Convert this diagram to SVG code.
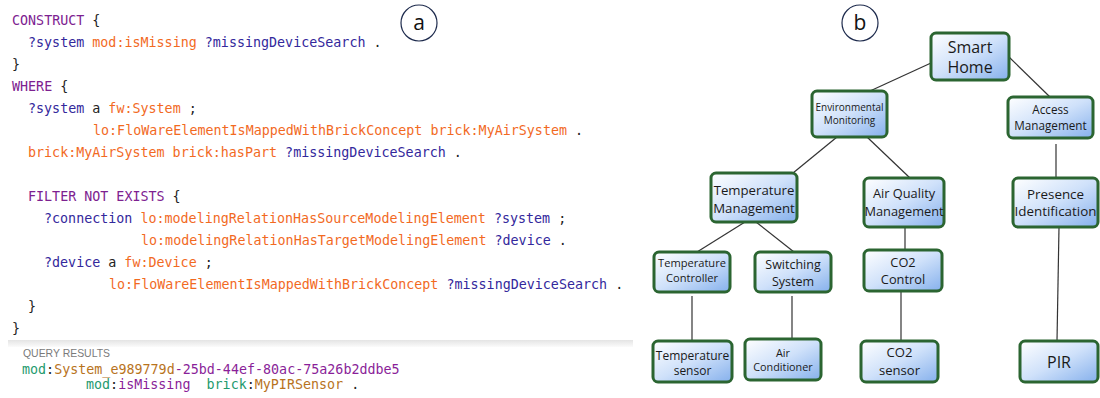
<svg xmlns="http://www.w3.org/2000/svg" width="1100" height="398" viewBox="0 0 1100 398">
<style>
.code{font-family:"DejaVu Sans Mono","Liberation Mono",monospace;font-size:13.35px;fill:#222}
.k{fill:#7d2190}
.o{fill:#f26a1f}
.v{fill:#33289c}
.g{fill:#1f9a6e}
.b{fill:#b8731d}
.p{fill:#8a1f99}
.node rect{fill:url(#ng);stroke:#2b6531;stroke-width:3}
.node text{font-family:"Open Sans","Liberation Sans",sans-serif;fill:#1a1a1a;text-anchor:middle}
.conn line{stroke:#333;stroke-width:1.2}
.lbl circle{fill:#fff;stroke:#1e2b4d;stroke-width:1.2}
.lbl text{font-family:"Open Sans","Liberation Sans",sans-serif;font-size:21px;fill:#111;text-anchor:middle}
</style>
<defs>
<linearGradient id="ng" x1="0" y1="0" x2="1" y2="1">
<stop offset="0" stop-color="#ffffff"/>
<stop offset="0.5" stop-color="#cfe1fa"/>
<stop offset="1" stop-color="#85b0ec"/>
</linearGradient>
<linearGradient id="bar" x1="0" y1="0" x2="0" y2="1">
<stop offset="0" stop-color="#e4e4e4"/>
<stop offset="1" stop-color="#fbfbfb"/>
</linearGradient>
</defs>
<rect width="1100" height="398" fill="#fff"/>

<g id="code">
<text class="code" xml:space="preserve" x="12" y="25"><tspan class="k">CONSTRUCT</tspan> {</text>
<text class="code" xml:space="preserve" x="28" y="47"><tspan class="v">?system</tspan> <tspan class="o">mod:isMissing</tspan> <tspan class="v">?missingDeviceSearch</tspan> .</text>
<text class="code" xml:space="preserve" x="12" y="69">}</text>
<text class="code" xml:space="preserve" x="12" y="91"><tspan class="k">WHERE</tspan> {</text>
<text class="code" xml:space="preserve" x="28" y="113"><tspan class="v">?system</tspan> a <tspan class="o">fw:System</tspan> ;</text>
<text class="code" xml:space="preserve" x="93" y="135"><tspan class="o">lo:FloWareElementIsMappedWithBrickConcept brick:MyAirSystem</tspan> .</text>
<text class="code" xml:space="preserve" x="28" y="157"><tspan class="o">brick:MyAirSystem brick:hasPart</tspan> <tspan class="v">?missingDeviceSearch</tspan> .</text>
<text class="code" xml:space="preserve" x="28" y="201"><tspan class="k">FILTER NOT EXISTS</tspan> {</text>
<text class="code" xml:space="preserve" x="44" y="223"><tspan class="v">?connection</tspan> <tspan class="o">lo:modelingRelationHasSourceModelingElement</tspan> <tspan class="v">?system</tspan> ;</text>
<text class="code" xml:space="preserve" x="141" y="245"><tspan class="o">lo:modelingRelationHasTargetModelingElement</tspan> <tspan class="v">?device</tspan> .</text>
<text class="code" xml:space="preserve" x="44" y="267"><tspan class="v">?device</tspan> a <tspan class="o">fw:Device</tspan> ;</text>
<text class="code" xml:space="preserve" x="109" y="289"><tspan class="o">lo:FloWareElementIsMappedWithBrickConcept</tspan> <tspan class="v">?missingDeviceSearch</tspan> .</text>
<text class="code" xml:space="preserve" x="28" y="311">}</text>
<text class="code" xml:space="preserve" x="12" y="333">}</text>
</g>

<g id="results">
<rect x="8" y="340" width="625" height="7" fill="url(#bar)"/>
<text x="23" y="357" font-family="Liberation Sans,Arial,sans-serif" font-size="10.5" fill="#7a7a7a" textLength="87" lengthAdjust="spacingAndGlyphs">QUERY RESULTS</text>
<text class="code" xml:space="preserve" x="22" y="374"><tspan class="g">mod</tspan>:<tspan class="b">System_e989779d</tspan><tspan class="p">-25bd-44ef-80ac-75a26b2ddbe5</tspan></text>
<text class="code" xml:space="preserve" x="86" y="389"><tspan class="g">mod</tspan>:<tspan class="p">isMissing</tspan>  <tspan class="g">brick</tspan>:<tspan class="b">MyPIRSensor</tspan> .</text>
</g>

<g id="label-a" class="lbl"><circle cx="419" cy="23" r="18"/><text x="419" y="30">a</text></g>
<g id="label-b" class="lbl"><circle cx="860" cy="23" r="18"/><text x="860" y="30">b</text></g>

<g id="connectors" class="conn">
<line x1="931" y1="63" x2="870" y2="91"/>
<line x1="1009" y1="57" x2="1050" y2="97"/>
<line x1="837" y1="137" x2="793" y2="173"/>
<line x1="867" y1="137" x2="910" y2="178"/>
<line x1="1056" y1="144" x2="1056" y2="178"/>
<line x1="745" y1="222" x2="697" y2="252"/>
<line x1="756" y1="222" x2="794" y2="252"/>
<line x1="692" y1="296" x2="692" y2="341"/>
<line x1="792" y1="296" x2="792" y2="339"/>
<line x1="905" y1="227" x2="905" y2="250"/>
<line x1="901" y1="291" x2="901" y2="341"/>
<line x1="1059" y1="227" x2="1057" y2="341"/>
</g>

<g id="smart-home" class="node"><rect x="931" y="33" width="78" height="47" rx="5"/><text font-size="16" x="970" y="52.5">Smart</text><text font-size="16" x="970" y="73">Home</text></g>
<g id="environmental-monitoring" class="node"><rect x="812" y="91" width="75" height="46" rx="5"/><text font-size="10" x="849.5" y="111">Environmental</text><text font-size="10" x="849.5" y="124">Monitoring</text></g>
<g id="access-management" class="node"><rect x="1008" y="97" width="85" height="41" rx="5"/><text font-size="11.7" x="1050.5" y="114">Access</text><text font-size="11.7" x="1050.5" y="130">Management</text></g>
<g id="temperature-management" class="node"><rect x="711" y="173" width="86" height="49" rx="5"/><text font-size="13.2" x="754" y="195">Temperature</text><text font-size="13.2" x="754" y="213">Management</text></g>
<g id="air-quality-management" class="node"><rect x="864" y="178" width="80" height="49" rx="5"/><text font-size="12.8" x="904" y="198">Air Quality</text><text font-size="12.8" x="904" y="216">Management</text></g>
<g id="presence-identification" class="node"><rect x="1013" y="178" width="85" height="49" rx="5"/><text font-size="13.4" x="1055.5" y="199">Presence</text><text font-size="13.4" x="1055.5" y="216">Identification</text></g>
<g id="temperature-controller" class="node"><rect x="654" y="252" width="76" height="40" rx="5"/><text font-size="11.1" x="692" y="267">Temperature</text><text font-size="11.1" x="692" y="282">Controller</text></g>
<g id="switching-system" class="node"><rect x="755" y="252" width="76" height="40" rx="5"/><text font-size="12.5" x="793" y="269">Switching</text><text font-size="12.5" x="793" y="286">System</text></g>
<g id="co2-control" class="node"><rect x="864" y="250" width="78" height="41" rx="5"/><text font-size="12.8" x="903" y="267">CO2</text><text font-size="12.8" x="903" y="284">Control</text></g>
<g id="temperature-sensor" class="node"><rect x="653" y="341" width="79" height="41" rx="5"/><text font-size="12" x="692.5" y="360">Temperature</text><text font-size="12" x="692.5" y="375">sensor</text></g>
<g id="air-conditioner" class="node"><rect x="745" y="339" width="76" height="41" rx="5"/><text font-size="10.8" x="783" y="357">Air</text><text font-size="10.8" x="783" y="371">Conditioner</text></g>
<g id="co2-sensor" class="node"><rect x="861" y="341" width="77" height="41" rx="5"/><text font-size="13.1" x="899.5" y="357">CO2</text><text font-size="13.1" x="899.5" y="375">sensor</text></g>
<g id="pir" class="node"><rect x="1020" y="341" width="78" height="41" rx="5"/><text font-size="16" x="1059" y="368">PIR</text></g>
</svg>
